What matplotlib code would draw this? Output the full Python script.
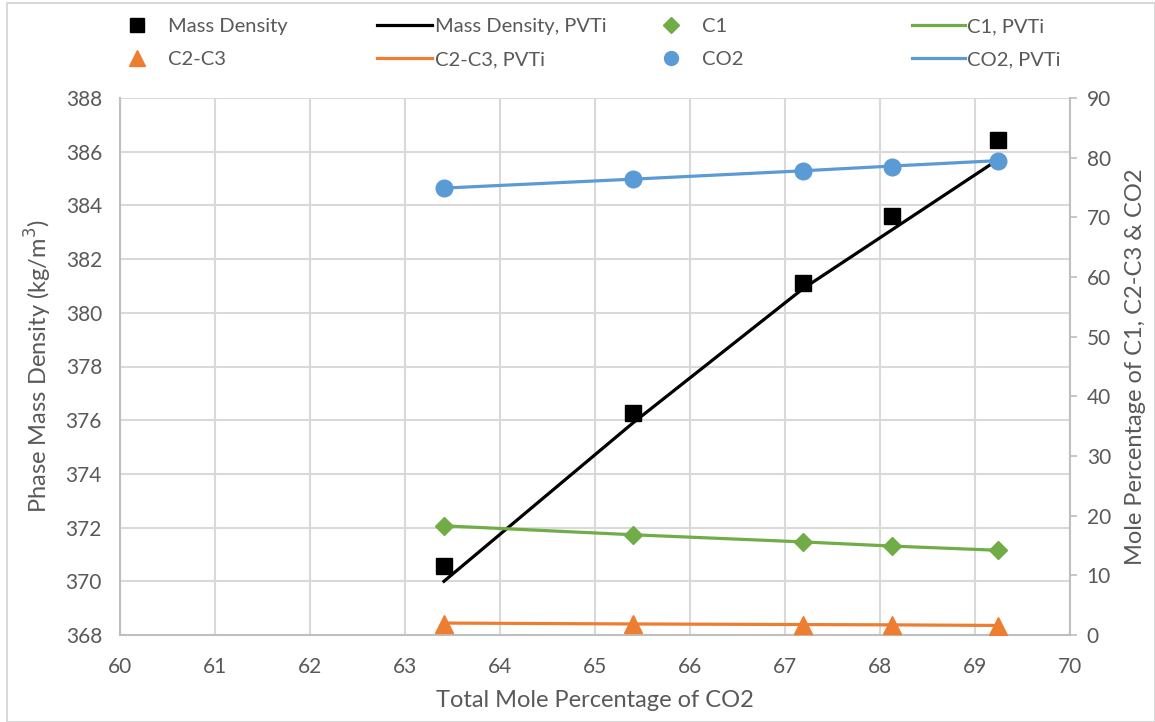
import matplotlib.pyplot as plt
from matplotlib.lines import Line2D
from matplotlib.patches import Rectangle

# data
co2_total = [63.41, 65.40, 67.19, 68.13, 69.24]
density = [370.57, 376.26, 381.12, 383.60, 386.45]
density_pvti = [370.0, 375.9, 380.9, 383.1, 385.7]
c1 = [18.2, 16.8, 15.6, 14.9, 14.2]
c1_pvti = [18.3, 16.8, 15.6, 14.9, 14.2]
c2c3 = [1.9, 1.8, 1.7, 1.65, 1.55]
c2c3_pvti = [2.0, 1.85, 1.75, 1.7, 1.6]
co2 = [74.9, 76.4, 77.8, 78.5, 79.4]
co2_pvti = [74.9, 76.4, 77.8, 78.6, 79.5]

x_ticks = list(range(60, 71))
left_ticks = list(range(368, 389, 2))
right_ticks = list(range(0, 91, 10))

BLACK = '#000000'
GREEN = '#70AD47'
ORANGE = '#ED7D31'
BLUE = '#5B9BD5'
TXT = '#595959'
GRID = '#D9D9D9'
AXIS = '#BFBFBF'

plt.rcParams['font.family'] = ['Lato', 'DejaVu Sans']

fig = plt.figure(figsize=(11.55, 7.22), dpi=100)
ax = fig.add_axes([120/1155, 1-635/722, 950/1155, 537/722])
ax2 = ax.twinx()

# primary axis: mass density
ax.plot(co2_total, density_pvti, color=BLACK, lw=2.3, zorder=3)
ax.plot(co2_total, density, ls='none', marker='s', ms=12, color=BLACK, zorder=4)

# secondary axis: mole percentages
ax2.plot(co2_total, c1_pvti, color=GREEN, lw=2.3)
ax2.plot(co2_total, c1, ls='none', marker='D', ms=9, color=GREEN)
ax2.plot(co2_total, c2c3_pvti, color=ORANGE, lw=2.3)
ax2.plot(co2_total, c2c3, ls='none', marker='^', ms=13, color=ORANGE)
ax2.plot(co2_total, co2_pvti, color=BLUE, lw=2.3)
ax2.plot(co2_total, co2, ls='none', marker='o', ms=12, color=BLUE)

ax.set_xlim(60, 70)
ax.set_ylim(368, 388)
ax2.set_ylim(0, 90)
ax.set_xticks(x_ticks)
ax.set_yticks(left_ticks)
ax2.set_yticks(right_ticks)
ax.grid(True, color=GRID, lw=1.5)
ax.set_axisbelow(True)

for a in (ax, ax2):
    for s in a.spines.values():
        s.set_visible(False)
ax.spines['bottom'].set_visible(True)
ax.spines['bottom'].set_color(AXIS)
ax.spines['bottom'].set_linewidth(1.5)
ax.spines['left'].set_visible(True)
ax.spines['left'].set_color(AXIS)
ax.spines['left'].set_linewidth(1.5)
ax2.spines['right'].set_visible(True)
ax2.spines['right'].set_color(AXIS)
ax2.spines['right'].set_linewidth(1.5)

ax.tick_params(axis='both', length=0, labelsize=15, colors=TXT)
ax.tick_params(axis='y', pad=13)
ax.tick_params(axis='x', pad=16)
ax2.tick_params(axis='y', length=5, width=1.2, color=AXIS, labelsize=15,
                labelcolor=TXT, pad=7)

ax.set_xlabel('Total Mole Percentage of CO2', fontsize=17, color=TXT, labelpad=9)
ax.set_ylabel('Phase Mass Density (kg/m$^3$)', fontsize=17, color=TXT, labelpad=8)
ax2.set_ylabel('Mole Percentage of C1, C2-C3 & CO2', fontsize=17, color=TXT,
               labelpad=10)

# legend, built column by column to match the spacing of the original
cols = [
    ([Line2D([], [], ls='none', marker='s', ms=10, color=BLACK),
      Line2D([], [], ls='none', marker='^', ms=11, color=ORANGE)],
     ['Mass Density', 'C2-C3'], 127, 1.0, 1.05),
    ([Line2D([], [], color=BLACK, lw=2.3), Line2D([], [], color=ORANGE, lw=2.3)],
     ['Mass Density, PVTi', 'C2-C3, PVTi'], 377, 2.75, 0.15),
    ([Line2D([], [], ls='none', marker='D', ms=8, color=GREEN),
      Line2D([], [], ls='none', marker='o', ms=10, color=BLUE)],
     ['C1', 'CO2'], 661, 1.0, 1.05),
    ([Line2D([], [], color=GREEN, lw=2.3), Line2D([], [], color=BLUE, lw=2.3)],
     ['C1, PVTi', 'CO2, PVTi'], 912, 2.65, 0.1),
]
for handles, labels, x0, hl, pad in cols:
    leg = fig.legend(handles, labels, loc='upper left',
                     bbox_to_anchor=(x0/1155, 1-18/722), frameon=False,
                     fontsize=14.5, handlelength=hl, handletextpad=pad,
                     borderpad=0, borderaxespad=0, labelspacing=0.78)
    for t in leg.get_texts():
        t.set_color(TXT)

# chart area border
fig.patches.append(Rectangle((7/1155, 0), 1-7/1155 - 0.5/1155, 1-3/722,
                             transform=fig.transFigure, fill=False,
                             edgecolor=GRID, lw=1.5))

fig.savefig('out.png', dpi=100)
